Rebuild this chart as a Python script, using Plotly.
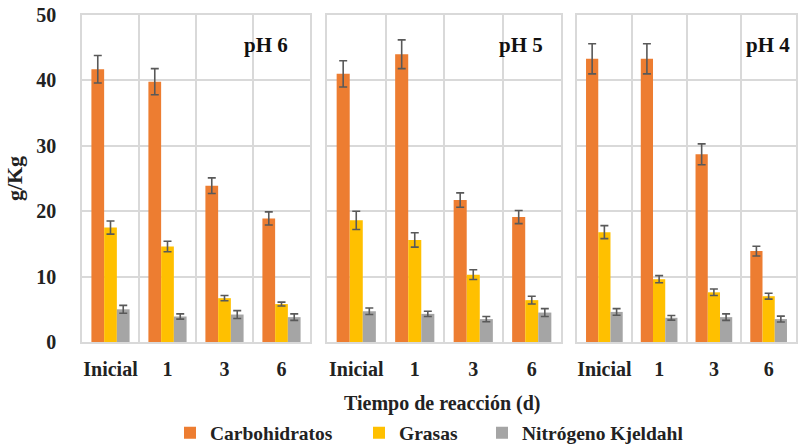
import plotly.graph_objects as go

# Reaction time categories (days)
tiempos = ["Inicial", "1", "3", "6"]
paneles = ["pH 6", "pH 5", "pH 4"]

# Mean concentrations (g/Kg) per pH panel
carbo_ph6 = [41.7, 39.8, 23.9, 18.9]
grasas_ph6 = [17.5, 14.6, 6.7, 5.8]
nitro_ph6 = [5.0, 3.9, 4.2, 3.8]

carbo_ph5 = [41.0, 44.0, 21.7, 19.1]
grasas_ph5 = [18.6, 15.6, 10.3, 6.4]
nitro_ph5 = [4.7, 4.3, 3.5, 4.5]

carbo_ph4 = [43.3, 43.3, 28.7, 13.9]
grasas_ph4 = [16.8, 9.6, 7.6, 7.0]
nitro_ph4 = [4.6, 3.7, 3.8, 3.5]

# Standard deviations
carbo_ph6_sd = [2.1, 2.0, 1.2, 1.0]
grasas_ph6_sd = [1.0, 0.8, 0.4, 0.3]
nitro_ph6_sd = [0.6, 0.4, 0.6, 0.5]

carbo_ph5_sd = [2.0, 2.2, 1.1, 1.0]
grasas_ph5_sd = [1.4, 1.1, 0.75, 0.6]
nitro_ph5_sd = [0.5, 0.4, 0.4, 0.6]

carbo_ph4_sd = [2.3, 2.3, 1.6, 0.75]
grasas_ph4_sd = [1.0, 0.55, 0.5, 0.45]
nitro_ph4_sd = [0.5, 0.35, 0.5, 0.45]

series_names = ["Carbohidratos", "Grasas", "Nitrógeno Kjeldahl"]
colores = ["#ED7D31", "#FFC000", "#A5A5A5"]

datos = [
    [(carbo_ph6, carbo_ph6_sd), (grasas_ph6, grasas_ph6_sd), (nitro_ph6, nitro_ph6_sd)],
    [(carbo_ph5, carbo_ph5_sd), (grasas_ph5, grasas_ph5_sd), (nitro_ph5, nitro_ph5_sd)],
    [(carbo_ph4, carbo_ph4_sd), (grasas_ph4, grasas_ph4_sd), (nitro_ph4, nitro_ph4_sd)],
]

FONT = '"Liberation Serif", "Times New Roman", serif'
W, H = 798, 445
ML, MR, MT, MB = 82, 2, 15, 103
pw = W - ML - MR
ph = H - MT - MB

def px_dom(a, b):
    return [(a - ML) / pw, (b - ML) / pw]

def px_x(px):
    return (px - ML) / pw

def px_y(py):
    return (H - MB - py) / ph

dominios = [px_dom(82, 310), px_dom(327, 561), px_dom(577, 796)]

fig = go.Figure()
legend_ids = ["legend", "legend2", "legend3"]

for p, panel in enumerate(datos):
    xa = "x" if p == 0 else f"x{p+1}"
    ya = "y" if p == 0 else f"y{p+1}"
    for s, (vals, sd) in enumerate(panel):
        fig.add_trace(go.Bar(
            x=tiempos, y=vals, name=series_names[s],
            marker=dict(color=colores[s], line=dict(width=0)),
            error_y=dict(type="data", array=sd, visible=True,
                         color="#595959", thickness=1.6, width=4),
            xaxis=xa, yaxis=ya,
            showlegend=(p == 0), legend=legend_ids[s],
        ))

grid = "#D9D9D9"
axis_font = dict(family=FONT, size=20, color="#222222", weight="bold")

layout = dict(
    width=W, height=H,
    margin=dict(l=ML, r=MR, t=MT, b=MB, autoexpand=False),
    paper_bgcolor="white", plot_bgcolor="white",
    font=dict(family=FONT, color="#222222"),
    barmode="group", bargap=0.33, bargroupgap=0,
)

for p in range(3):
    xk = "xaxis" if p == 0 else f"xaxis{p+1}"
    yk = "yaxis" if p == 0 else f"yaxis{p+1}"
    yref = "y" if p == 0 else f"y{p+1}"
    xref = "x" if p == 0 else f"x{p+1}"
    layout[xk] = dict(
        domain=dominios[p], anchor=yref, type="category",
        tickson="boundaries", ticks="", showgrid=True, gridcolor=grid, gridwidth=1.5,
        showline=True, linecolor=grid, linewidth=1.5, mirror=True,
        tickfont=axis_font, ticklabelstandoff=8, tickangle=0, automargin=False,
    )
    layout[yk] = dict(
        domain=[0, 1], anchor=xref, range=[0, 50], dtick=10,
        showgrid=True, gridcolor=grid, gridwidth=1.5, zeroline=False,
        showline=True, linecolor=grid, linewidth=1.5, mirror=True,
        showticklabels=(p == 0), tickfont=axis_font, ticks="",
        ticklabelstandoff=20, automargin=False,
    )
    if p > 0:
        layout[yk]["matches"] = "y"

layout["yaxis"]["title"] = dict(text="g/Kg", font=dict(family=FONT, size=22, color="#222222", weight="bold"), standoff=8)

# Legend boxes, one per series, placed by the start of their text
leg_text_x = [208, 397, 520]
for i, lid in enumerate(legend_ids):
    layout[lid] = dict(
        x=px_x(leg_text_x[i] - 38), y=px_y(433),
        xanchor="left", yanchor="middle", orientation="h",
        font=dict(family=FONT, size=19.5, color="#222222", weight="bold"),
        bgcolor="rgba(0,0,0,0)", itemwidth=30,
    )

fig.update_layout(**layout)

# Panel labels and shared x-axis title
pos_ph = [266, 521, 768]
for p, txt in enumerate(paneles):
    fig.add_annotation(
        x=px_x(pos_ph[p]), y=px_y(45),
        xref="paper", yref="paper", text=txt, showarrow=False,
        font=dict(family=FONT, size=21, color="#111111", weight="bold"),
        xanchor="center", yanchor="middle",
    )

fig.add_annotation(
    x=px_x(442), y=px_y(403),
    xref="paper", yref="paper", text="Tiempo de reacción (d)", showarrow=False,
    font=dict(family=FONT, size=20, color="#222222", weight="bold"),
    xanchor="center", yanchor="middle",
)

fig.write_html("out.html")
